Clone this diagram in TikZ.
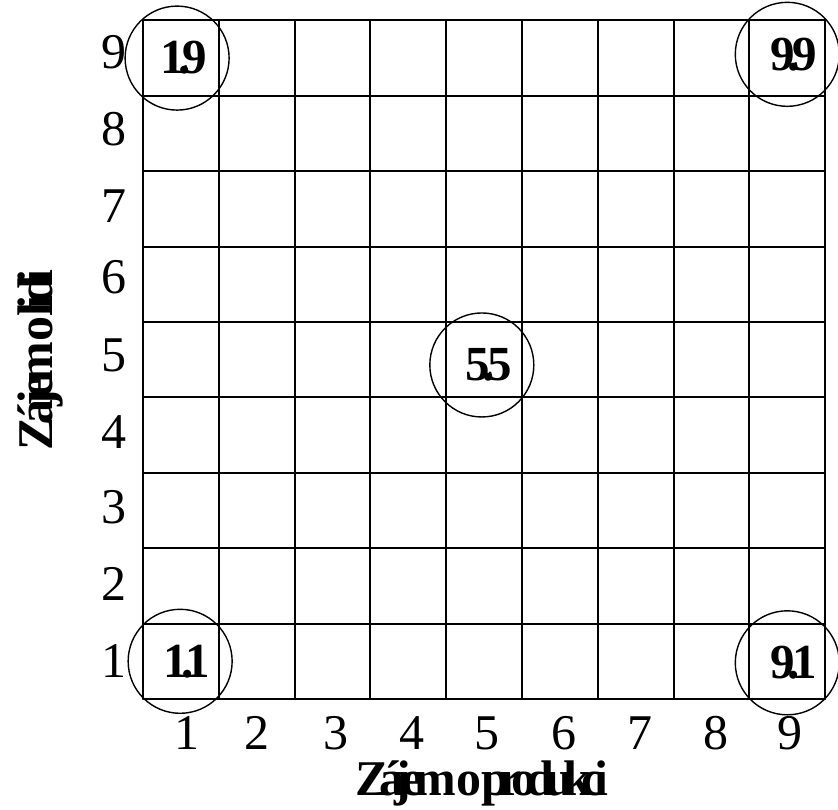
\documentclass[tikz,border=0pt]{standalone}
\usepackage{fontspec}
\setmainfont{Liberation Serif}
\newfontfamily\gridtagfont[LetterSpace=-15]{Liberation Serif}
\newcommand{\gridtitlefont}{\gridtagfont\bfseries\fontsize{50}{60}\selectfont\spaceskip=0.1pt\relax}

\begin{document}
\begin{tikzpicture}[x=1pt, y=1pt]
% Managerial grid, 9 x 9 cells
\def\cellwd{75.8pt}
\def\cellht{75.4pt}
\providecommand{\gridLineColor}{black}
\providecommand{\gridLineWidth}{1.9pt}
\providecommand{\ringLineWidth}{1.4pt}
\tikzset{
  axisnum/.style={font=\fontsize{50}{60}\selectfont, inner sep=0pt},
  ringnode/.style={draw, circle, minimum size=104pt, inner sep=0pt, line width=\ringLineWidth,
    font=\gridtagfont\bfseries\fontsize{49}{58}\selectfont},
  axistitle/.style={font=\gridtitlefont, inner sep=0pt}
}
\useasboundingbox (-143,-110) rectangle (695,699);
\begin{scope}[x=\cellwd, y=\cellht, line cap=round, line join=round]
  % Vertical lines
  \begin{scope}[draw=\gridLineColor, line width=\gridLineWidth]
    \draw (0,0) -- (0,9);
    \draw (1,0) -- (1,9);
    \draw (2,0) -- (2,9);
    \draw (3,0) -- (3,9);
    \draw (4,0) -- (4,9);
    \draw (5,0) -- (5,9);
    \draw (6,0) -- (6,9);
    \draw (7,0) -- (7,9);
    \draw (8,0) -- (8,9);
    \draw (9,0) -- (9,9);
  \end{scope}
  % Horizontal lines
  \begin{scope}[draw=\gridLineColor, line width=\gridLineWidth]
    \draw (0,0) -- (9,0);
    \draw (0,1) -- (9,1);
    \draw (0,2) -- (9,2);
    \draw (0,3) -- (9,3);
    \draw (0,4) -- (9,4);
    \draw (0,5) -- (9,5);
    \draw (0,6) -- (9,6);
    \draw (0,7) -- (9,7);
    \draw (0,8) -- (9,8);
    \draw (0,9) -- (9,9);
  \end{scope}
  % Row numbers
  \node[axisnum, anchor=east] (row1) at (-0.21,0.5) {1};
  \node[axisnum, anchor=east] (row2) at (-0.21,1.53) {2};
  \node[axisnum, anchor=east] (row3) at (-0.21,2.55) {3};
  \node[axisnum, anchor=east] (row4) at (-0.21,3.54) {4};
  \node[axisnum, anchor=east] (row5) at (-0.21,4.56) {5};
  \node[axisnum, anchor=east] (row6) at (-0.21,5.6) {6};
  \node[axisnum, anchor=east] (row7) at (-0.21,6.54) {7};
  \node[axisnum, anchor=east] (row8) at (-0.21,7.56) {8};
  \node[axisnum, anchor=east] (row9) at (-0.21,8.58) {9};
  % Column numbers
  \node[axisnum, anchor=north] (col1) at (0.58,-0.23) {1};
  \node[axisnum, anchor=north] (col2) at (1.5,-0.23) {2};
  \node[axisnum, anchor=north] (col3) at (2.54,-0.23) {3};
  \node[axisnum, anchor=north] (col4) at (3.55,-0.23) {4};
  \node[axisnum, anchor=north] (col5) at (4.54,-0.23) {5};
  \node[axisnum, anchor=north] (col6) at (5.55,-0.23) {6};
  \node[axisnum, anchor=north] (col7) at (6.56,-0.23) {7};
  \node[axisnum, anchor=north] (col8) at (7.56,-0.23) {8};
  \node[axisnum, anchor=north] (col9) at (8.53,-0.23) {9};
  % Marked styles (text sits a little right of the ring centre)
  \node[ringnode] (ring11) at (0.49,0.5) {\hspace*{14pt}1.1};
  \node[ringnode] (ring19) at (0.45,8.5) {\hspace*{14pt}1.9};
  \node[ringnode] (ring55) at (4.47,4.43) {\hspace*{14pt}5.5};
  \node[ringnode] (ring91) at (8.5,0.48) {\hspace*{12pt}9.1};
  \node[ringnode] (ring99) at (8.5,8.55) {\hspace*{12pt}9.9};
  % Axis titles
  \node[axistitle, anchor=base, font=\gridtitlefont\addfontfeature{LetterSpace=-19}] (xtitle) at (4.47,-1.28) {Zájem o produkci};
  \node[axistitle, anchor=base, rotate=90] (ytitle) at (-1.19,4.5) {Zájem o lidi};
\end{scope}
\end{tikzpicture}
\end{document}
